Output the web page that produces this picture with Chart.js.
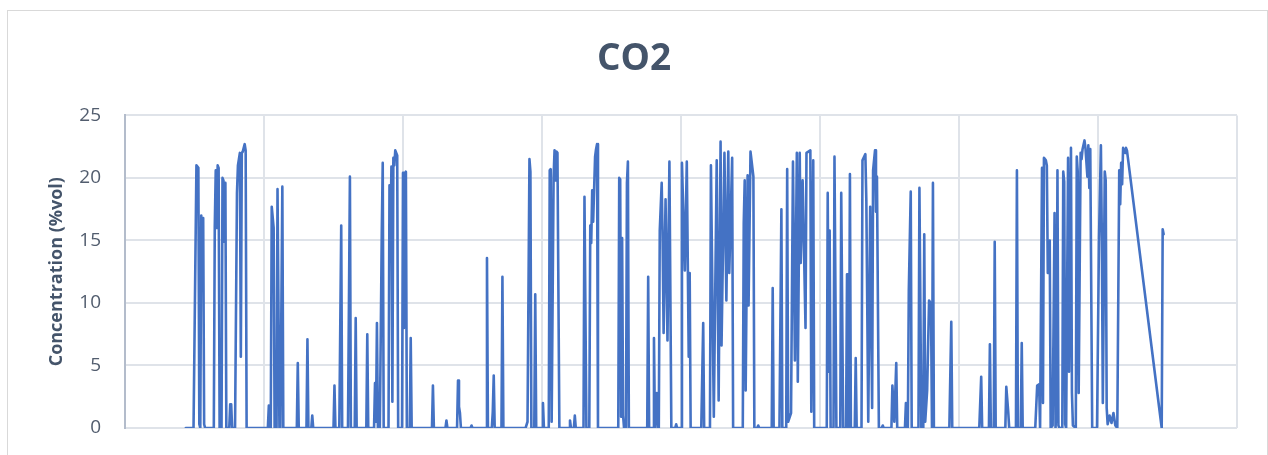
<!DOCTYPE html>
<html>
<head>
<meta charset="utf-8">
<script src="https://cdn.jsdelivr.net/npm/chart.js@4.4.1/dist/chart.umd.min.js"></script>
<style>
  html, body { margin: 0; padding: 0; background: #fff; overflow: hidden; }
  #frame { position: absolute; left: 7px; top: 10px; width: 1261px; height: 470px; border: 1px solid #d9d9d9; box-sizing: border-box; }
  #chart { position: absolute; left: 0; top: 0; }
</style>
</head>
<body>
<div id="frame"></div>
<canvas id="chart" width="1268" height="455"></canvas>
<script>
// 10-minute samples, one gridline per day (144 samples)
const chartTitle = 'CO2'
const yTitle = 'Concentration (%vol)'
const samplesPerDay = 144
const days = 8

const sampleIndex = [
  63,71,74,76,77,78,79,80,81,82,83,
  92,93,94,95,96,97,98,
  100,101,102,103,104,105,
  108,109,110,111,
  114,116,117,119,120,121,122,124,125,126,
  148,149,150,151,152,154,155,
  157,158,160,161,163,164,
  178,179,180,188,189,190,193,194,195,
  216,217,218,222,224,225,231,233,234,
  238,239,240,250,251,252,
  258,259,260,261,262,264,266,267,268,
  273,274,275,276,277,278,279,280,282,283,
  287,288,289,290,291,292,
  295,296,297,318,319,320,332,333,334,
  344,345,346,347,348,358,359,360,
  374,375,376,380,381,382,383,390,391,392,
  415,417,419,420,421,424,425,426,432,433,434,
  439,440,441,442,444,445,446,447,448,450,
  460,461,462,465,466,467,
  475,476,478,481,482,483,484,485,487,488,489,490,
  511,512,513,514,515,516,517,519,520,521,522,
  541,542,543,547,548,549,551,552,553,554,556,557,558,560,562,564,566,
  570,571,572,576,577,580,582,584,585,586,
  597,599,600,606,607,610,613,615,617,618,621,623,625,626,629,630,
  640,641,642,643,645,646,648,651,652,655,656,657,
  670,671,672,678,680,681,685,686,687,690,692,694,696,697,699,700,702,705,706,710,711,713,714,
  727,728,729,730,731,734,735,737,741,742,744,747,748,749,750,751,752,756,757,758,
  763,764,767,768,770,772,774,775,777,778,779,781,784,785,786,
  794,795,797,799,800,808,809,810,811,812,814,815,
  822,823,825,827,828,829,831,833,835,836,837,838,
  854,856,857,885,887,888,895,896,897,900,901,902,
  912,913,915,916,923,924,925,928,929,930,
  943,945,947,948,950,951,952,954,955,956,958,959,961,963,964,965,966,967,968,
  971,972,973,974,975,977,978,980,981,982,985,986,987,988,990,991,992,994,995,997,998,999,1000,1002,
  1007,1009,1011,1012,1013,1015,1016,1017,1018,1020,1022,1024,1026,1028,1030,1031,1032,1033,1034,1036,1037,1038,
  1074,1075,1076
]

const co2 = [
  0,0,21.0,20.8,0.3,0,17.0,15.0,16.8,0.3,0,
  0,16.1,20.6,16.0,21.0,20.8,0,
  0,20.0,19.8,14.9,19.6,0,
  0,1.9,1.9,0,
  0,18.8,21.0,22.0,5.7,22.0,22.1,22.7,22.2,0,
  0,1.8,0,0,17.7,16.0,0,
  0,19.1,0,0,19.3,0,
  0,5.2,0,0,7.1,0,0,1.0,0,
  0,3.4,0,0,16.2,0,0,20.1,0,
  0,8.8,0,0,7.5,0,
  0,3.6,0.5,8.4,0,0,15.6,21.2,0,
  0,19.4,14.8,20.9,2.1,21.6,21.0,22.2,21.8,0,
  0,20.4,8.0,20.2,20.5,0,
  0,7.2,0,0,3.4,0,0,0.6,0,
  0,3.8,1.7,1.2,0,0,0.2,0,
  0,13.6,0,0,1.3,4.2,0,0,12.1,0,
  0,0.5,21.5,20.5,0,0,10.7,0,0,2.0,0,
  0,20.6,20.7,0.5,20.0,22.2,19.8,22.1,22.0,0,
  0,0.6,0,0,1.0,0,
  0,18.5,0,0,16.2,14.8,19.0,16.5,21.7,22.3,22.7,0,
  0,20.0,19.9,0.9,15.2,1.0,0,0,19.6,21.3,0,
  0,12.1,0,0,7.2,0,2.8,0,0,15.8,19.6,14.8,7.6,18.3,7.0,21.3,0,
  0,0.3,0,0,21.2,12.6,21.3,5.7,12.4,0,
  0,8.4,0,0,21.0,0.9,21.4,2.2,22.9,6.6,22.0,10.2,22.1,12.4,21.6,0,
  0,16.4,19.8,3.0,20.2,9.8,22.1,20.1,0,0,0.2,0,
  0,11.2,0,0,17.5,0,0,20.7,0.5,1.2,21.3,5.4,22.0,3.7,22.0,13.2,19.8,8.0,22.0,22.2,1.3,21.4,0,
  0,18.8,4.5,15.8,0,0,21.7,0,0,18.8,0,0,12.3,0,0,20.3,0,0,5.6,0,
  0,21.4,21.9,18.2,0.5,17.7,1.6,20.6,22.2,17.3,20.1,0,0,0.2,0,
  0,3.4,0.5,5.2,0,0,2.0,0,0,11.0,18.9,0,
  0,19.2,0,0,15.5,0.5,3.0,10.2,9.9,0,19.6,0,
  0,8.5,0,0,4.1,0,0,6.7,0,0,14.9,0,
  0,3.3,1.3,0,0,20.6,0,0,6.8,0,
  0,3.4,3.5,0,20.8,2.0,21.6,21.4,21.0,12.4,15.0,0,0.2,17.2,0,1.7,20.6,0.2,0,
  0,20.5,19.7,0.3,0,21.6,4.5,22.4,2.8,0.2,0,21.7,20.5,2.8,22.0,21.5,22.3,23.0,22.4,20.1,22.6,19.2,22.3,0,
  0,15.0,22.6,15.0,2.0,20.5,19.8,1.6,0.3,1.0,0.4,1.2,0.2,0,20.6,17.9,21.2,19.5,22.4,22.0,22.4,22.2,
  0,15.9,15.5
]

const yTicks = [0, 5, 10, 15, 20, 25]

const points = sampleIndex.map((s, i) => ({x: s, y: co2[i]}))

const gridColor = '#dfe3e9'
const textColor = '#525d6e'

const ctx = document.querySelector('#chart').getContext('2d')

new Chart(ctx, {
    type: 'line',
    data: {
        datasets: [
            {
                label: chartTitle,
                data: points,
                borderColor: '#4472c4',
                borderWidth: 2.6,
                pointRadius: 0,
                tension: 0,
                borderJoinStyle: 'round',
                borderCapStyle: 'round',
                fill: false
            }
        ]
    },
    options: {
        responsive: false,
        animation: false,
        layout: { padding: { left: 31, right: 31, top: 0, bottom: 0 } },
        plugins: {
            legend: { display: false },
            tooltip: { enabled: false },
            title: {
                display: true,
                text: chartTitle,
                color: '#44546a',
                font: { family: 'Open Sans', size: 37, weight: 'bold' },
                padding: { top: 37, bottom: 34 }
            }
        },
        scales: {
            x: {
                type: 'linear',
                min: 0,
                max: samplesPerDay * days,
                ticks: { display: false, stepSize: samplesPerDay },
                grid: { color: gridColor, lineWidth: 2, drawTicks: false },
                border: { display: false },
                afterFit: (scale) => { scale.height = 27 }
            },
            y: {
                min: 0,
                max: 25,
                afterBuildTicks: (scale) => { scale.ticks = yTicks.map(v => ({value: v})) },
                ticks: {
                    color: textColor,
                    padding: 24,
                    font: { family: 'Open Sans', size: 19 }
                },
                grid: { color: gridColor, lineWidth: 2, drawTicks: false },
                border: { display: true, color: '#b3bccb', width: 2 },
                title: {
                    display: true,
                    text: yTitle,
                    color: '#44546a',
                    font: { family: 'Open Sans', size: 18, weight: 'bold' },
                    padding: { top: 15, bottom: 0 }
                },
                afterFit: (scale) => {
                    scale.width = 94
                    scale.paddingTop = 0
                    scale.paddingBottom = 0
                }
            }
        }
    }
})
</script>
</body>
</html>
